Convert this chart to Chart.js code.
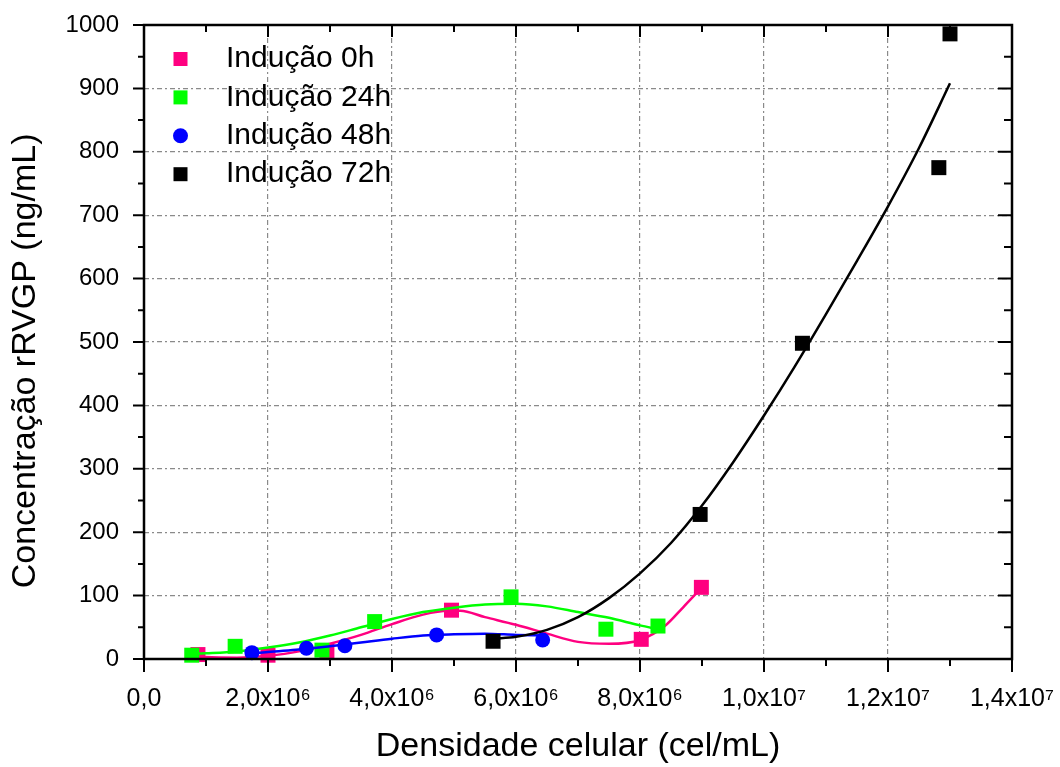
<!DOCTYPE html>
<html>
<head>
<meta charset="utf-8">
<script src="https://cdn.jsdelivr.net/npm/chart.js@4.4.1/dist/chart.umd.min.js"></script>
<style>
html,body{margin:0;padding:0;background:#ffffff;}
#wrap{width:1060px;height:767px;}
</style>
</head>
<body>
<div id="wrap"><canvas id="c" width="1060" height="767"></canvas></div>
<script>
// ---------- data ----------
const seriesLabels = ['Indução 0h', 'Indução 24h', 'Indução 48h', 'Indução 72h'];

// measured points (x in cel/mL, y in ng/mL)
const x0h  = [0.87e6, 2.0e6, 2.95e6, 4.96e6, 8.02e6, 8.99e6];
const y0h  = [7, 6, 13, 77, 31, 113];
const x24h = [0.77e6, 1.47e6, 2.87e6, 3.72e6, 5.92e6, 7.45e6, 8.29e6];
const y24h = [6, 20, 14, 59, 98, 47, 52];
const x48h = [1.74e6, 2.62e6, 3.24e6, 4.72e6, 6.43e6];
const y48h = [10, 17, 21, 38, 30];
const x72h = [5.63e6, 8.97e6, 10.62e6, 12.82e6, 13.0e6];
const y72h = [28, 228, 498, 775, 986];

// fitted curves
const fit0hX  = [0.87e6, 1.0e6, 1.5e6, 2.0e6, 2.5e6, 3.0e6, 3.5e6, 4.0e6, 4.5e6, 4.9e6, 5.1e6, 5.5e6, 6.0e6, 6.5e6, 7.0e6, 7.5e6, 8.0e6, 8.4e6, 8.7e6, 9.0e6];
const fit0hY  = [5, 3, 2, 5, 12, 24, 38, 55, 70, 76, 76, 66, 54, 40, 27, 24, 30, 52, 82, 113];
const fit24hX = [0.77e6, 1.0e6, 1.5e6, 2.0e6, 2.5e6, 3.0e6, 3.5e6, 4.0e6, 4.5e6, 5.0e6, 5.5e6, 6.0e6, 6.5e6, 7.0e6, 7.5e6, 8.0e6, 8.29e6];
const fit24hY = [8, 9, 12, 18, 26, 37, 50, 63, 74, 81, 86, 87, 83, 74, 65, 53, 47];
const fit48hX = [1.7e6, 2.0e6, 2.5e6, 3.0e6, 3.5e6, 4.0e6, 4.5e6, 5.0e6, 5.5e6, 6.0e6, 6.43e6];
const fit48hY = [8, 11, 15, 20, 26, 32, 37, 39, 40, 38, 37];
const fit72hX = [5.63e6, 6.0e6, 6.5e6, 7.0e6, 7.5e6, 8.0e6, 8.5e6, 9.0e6, 9.5e6, 10.0e6, 10.5e6, 11.0e6, 11.5e6, 12.0e6, 12.5e6, 13.0e6];
const fit72hY = [32, 35, 46, 66, 96, 135, 183, 242, 310, 384, 462, 544, 628, 714, 806, 908];

// axis tick labels
const xTickValues = [0, 2e6, 4e6, 6e6, 8e6, 10e6, 12e6, 14e6];
const xTickLabels = ['0,0', '2,0x10\u2076', '4,0x10\u2076', '6,0x10\u2076', '8,0x10\u2076', '1,0x10\u2077', '1,2x10\u2077', '1,4x10\u2077'];
const yTickLabels = ['0', '100', '200', '300', '400', '500', '600', '700', '800', '900', '1000'];

// ---------- styles ----------
const colors = ['#FF0080', '#00FF00', '#0000FF', '#000000'];
const markerStyles = ['rect', 'rect', 'circle', 'rect'];
const FONT = "'Liberation Sans', Arial, sans-serif";

function pts(xs, ys) { return xs.map((x, i) => ({x: x, y: ys[i]})); }

const ptsX = [x0h, x24h, x48h, x72h];
const ptsY = [y0h, y24h, y48h, y72h];
const fitX = [fit0hX, fit24hX, fit48hX, fit72hX];
const fitY = [fit0hY, fit24hY, fit48hY, fit72hY];

const datasets = [];
for (let i = 0; i < 4; i++) {
  datasets.push({
    label: seriesLabels[i],
    data: pts(ptsX[i], ptsY[i]),
    showLine: false,
    pointStyle: markerStyles[i],
    pointRadius: markerStyles[i] === 'circle' ? 7.5 : 10.6,
    pointBackgroundColor: colors[i],
    pointBorderColor: colors[i],
    pointBorderWidth: 0,
    backgroundColor: colors[i],
    borderColor: colors[i],
    clip: false,
    order: 2 * (3 - i),
    legendEntry: true
  });
  datasets.push({
    label: seriesLabels[i] + ' ajuste',
    data: pts(fitX[i], fitY[i]),
    showLine: true,
    pointRadius: 0,
    borderColor: colors[i],
    borderWidth: 2.5,
    cubicInterpolationMode: 'monotone',
    fill: false,
    order: 2 * (3 - i) + 1,
    legendEntry: false
  });
}

const X_MAX = 14e6, Y_MAX = 1000;

const framePlugin = {
  id: 'frameAndLegend',
  afterDatasetsDraw(chart) {
    const {ctx, chartArea, scales} = chart;
    const {left, right, top, bottom} = chartArea;
    const x = scales.x, y = scales.y;
    ctx.save();
    ctx.strokeStyle = '#000';
    ctx.lineWidth = 2.5;
    ctx.strokeRect(left, top, right - left, bottom - top);
    ctx.lineWidth = 2;
    ctx.beginPath();
    for (let k = 0; k <= 14; k++) {
      const px = x.getPixelForValue(k * 1e6);
      const major = k % 2 === 0;
      ctx.moveTo(px, bottom); ctx.lineTo(px, bottom + (major ? 13 : 7));
      ctx.moveTo(px, top); ctx.lineTo(px, top + (major ? 12 : 7));
    }
    for (let k = 0; k <= 20; k++) {
      const py = y.getPixelForValue(k * 50);
      const major = k % 2 === 0;
      ctx.moveTo(left, py); ctx.lineTo(left - (major ? 11 : 6), py);
      ctx.moveTo(right, py); ctx.lineTo(right - (major ? 14 : 8), py);
    }
    ctx.stroke();

    // legend (inside plot, top-left)
    const entries = chart.data.datasets.filter(d => d.legendEntry);
    ctx.font = '30px ' + FONT;
    ctx.textBaseline = 'middle';
    ctx.textAlign = 'left';
    entries.forEach((d, i) => {
      const cy = top + 34 + i * 38.4;
      const cx = left + 36.5;
      ctx.fillStyle = d.pointBackgroundColor;
      if (d.pointStyle === 'circle') {
        ctx.beginPath(); ctx.arc(cx, cy, 7.5, 0, Math.PI * 2); ctx.fill();
      } else {
        ctx.fillRect(cx - 7, cy - 7, 14, 14);
      }
      ctx.fillStyle = '#000';
      ctx.fillText(d.label, left + 82, cy);
    });
    ctx.restore();
  }
};

const gridColor = (ctx, max) => {
  const v = ctx.tick ? ctx.tick.value : null;
  if (v === null || v === 0 || v === max) return 'rgba(0,0,0,0)';
  return '#8a8a8a';
};

const noPad = s => { s.paddingTop = 0; s.paddingBottom = 0; s.paddingLeft = 0; s.paddingRight = 0; };

new Chart(document.getElementById('c'), {
  type: 'scatter',
  data: {datasets: datasets},
  options: {
    responsive: false,
    devicePixelRatio: 1,
    animation: false,
    layout: {padding: {left: 0, right: 48, top: 25, bottom: 0}},
    plugins: {legend: {display: false}, tooltip: {enabled: false}, title: {display: false}},
    scales: {
      x: {
        type: 'linear',
        min: 0, max: X_MAX,
        afterFit: s => { s.height = 108; noPad(s); },
        afterBuildTicks: s => { s.ticks = xTickValues.map(v => ({value: v})); },
        ticks: {
          callback: (v) => { const i = xTickValues.indexOf(v); return i >= 0 ? xTickLabels[i] : ''; },
          font: {family: FONT, size: 25}, color: '#000', padding: 25, maxRotation: 0, autoSkip: false
        },
        grid: {color: c => gridColor(c, X_MAX), lineWidth: 1.2, drawTicks: false},
        border: {display: false, dash: [5, 3, 2, 3]},
        title: {display: true, text: 'Densidade celular (cel/mL)', font: {family: FONT, size: 34}, color: '#000', padding: {top: 0, bottom: 0}}
      },
      y: {
        type: 'linear',
        min: 0, max: Y_MAX,
        afterFit: s => { s.width = 144; noPad(s); },
        ticks: {
          stepSize: 100,
          callback: (v, i) => yTickLabels[i],
          font: {family: FONT, size: 24}, color: '#000', padding: 25
        },
        grid: {color: c => gridColor(c, Y_MAX), lineWidth: 1.2, drawTicks: false},
        border: {display: false, dash: [5, 3, 2, 3]},
        title: {display: true, text: 'Concentração rRVGP (ng/mL)    ', font: {family: FONT, size: 34}, color: '#000', padding: {top: 5, bottom: 0}}
      }
    }
  },
  plugins: [framePlugin]
});
</script>
</body>
</html>
